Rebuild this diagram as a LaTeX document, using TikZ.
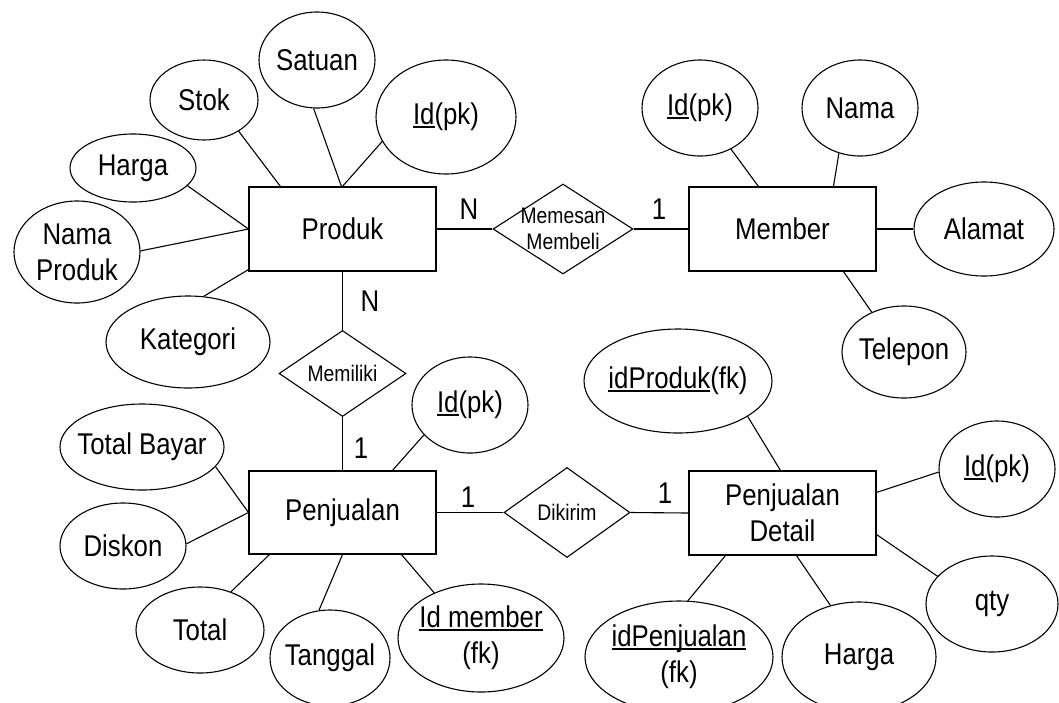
\documentclass[tikz,border=0pt]{standalone}
\usepackage{fontspec}
\setmainfont{Liberation Sans}[FakeStretch=0.86]
\usetikzlibrary{shapes.geometric}

% underlined key attribute
\newsavebox\keybox
\newcommand\keyul[1]{\sbox\keybox{#1}\rlap{\rule[-3.2pt]{\wd\keybox}{1.8pt}}\usebox\keybox}

\tikzset{
  bigfont/.style={font=\fontsize{30}{36}\selectfont},
  smallfont/.style={font=\fontsize{22.5}{26}\selectfont},
  entity/.style n args={2}{draw, rectangle, inner sep=0pt, align=center,
    minimum width=#1, minimum height=#2, bigfont},
  attr/.style n args={2}{draw, ellipse, inner xsep=-25pt, inner ysep=-10pt,
    align=center, minimum width=#1, minimum height=#2, bigfont},
  rel/.style n args={2}{draw, diamond, inner xsep=-25pt, inner ysep=-10pt,
    align=center, minimum width=#1, minimum height=#2, smallfont},
  card/.style={inner sep=0pt, bigfont},
}

\begin{document}
\begin{tikzpicture}[x=1pt, y=-1pt, line width=1.1pt]
\useasboundingbox (0,0) rectangle (1059,702);
\clip (0,0) rectangle (1059,702);

% entities
\node[entity={187pt}{84pt}] (produk)    at (342.5,229)   {Produk};
\node[entity={187pt}{84pt}] (member)    at (782.5,229)   {Member};
\node[entity={187pt}{83pt}] (penjualan) at (342.5,512.5) {Penjualan};
\node[entity={187pt}{84pt}] (detail)    at (782.5,513)   {Penjualan\\Detail};

% relationships
\node[rel={140pt}{90pt}] (memesan)  at (563,229)     {Memesan\\Membeli};
\node[rel={127pt}{86pt}] (memiliki) at (342.5,373.5) {Memiliki};
\node[rel={126pt}{90pt}] (dikirim)  at (567,512.5)   {Dikirim};

% attributes of Produk
\node[attr={116pt}{96pt}]  (satuan)   at (317,60)  {Satuan};
\node[attr={108pt}{80pt}]  (stok)     at (204,100) {Stok};
\node[attr={140pt}{114pt}] (idp)      at (446,117) {\keyul{Id}(pk)};
\node[attr={126pt}{68pt}]  (harga)    at (133,168) {Harga};
\node[attr={126pt}{102pt}] (namap)    at (77,252)  {Nama\\Produk};
\node[attr={164pt}{92pt}]  (kategori) at (188,342) {Kategori};

% attributes of Member
\node[attr={116pt}{96pt}]  (idm)      at (700,108) {\keyul{Id}(pk)};
\node[attr={116pt}{96pt}]  (nama)     at (860,108) {Nama};
\node[attr={140pt}{94pt}]  (alamat)   at (984,229) {Alamat};
\node[attr={124pt}{92pt}]  (telepon)  at (904,352) {Telepon};

% attributes of Penjualan
\node[attr={116pt}{96pt}]  (idj)        at (470,405) {\keyul{Id}(pk)};
\node[attr={164pt}{86pt}]  (totalbayar) at (142,447) {Total Bayar};
\node[attr={126pt}{86pt}]  (diskon)     at (123,546) {Diskon};
\node[attr={128pt}{86pt}]  (total)      at (200,630) {Total};
\node[attr={120pt}{96pt}]  (tanggal)    at (330,658) {Tanggal};
\node[attr={166pt}{108pt}] (idmember)   at (481,638) {\keyul{Id member}\\(fk)};

% attributes of Penjualan Detail
\node[attr={188pt}{104pt}] (idproduk) at (678,381) {\keyul{idProduk}(fk)};
\node[attr={116pt}{96pt}]  (idd)      at (997,469) {\keyul{Id}(pk)};
\node[attr={132pt}{96pt}]  (qty)      at (992,604) {qty};
\node[attr={154pt}{110pt}] (hargad)   at (859,657) {Harga};
\node[attr={188pt}{112pt}] (idpenj)   at (679,657) {\keyul{idPenjualan}\\(fk)};

% cardinalities
\node[card] (c1) at (469,209) {N};
\node[card] (c2) at (659,209) {1};
\node[card] (c3) at (370,301) {N};
\node[card] (c4) at (361,448) {1};
\node[card] (c5) at (468,497) {1};
\node[card] (c6) at (665,493) {1};

% relationship links
\draw (produk.east) -- (memesan.west);
\draw (memesan.east) -- (member.west);
\draw (produk.south) -- (memiliki.north);
\draw (memiliki.south) -- (penjualan.north);
\draw (penjualan.east) -- (dikirim.west);
\draw (dikirim.east) -- (detail.west);

% Produk attribute links
\draw (satuan.-94)  -- ([xshift=93pt]produk.north west);
\draw (stok.-42)    -- ([xshift=32pt]produk.north west);
\draw (idp.201)     -- ([xshift=94pt]produk.north west);
\draw (harga.-18)   -- (produk.west);
\draw (namap.1)     -- (produk.west);
\draw (kategori.71) -- ([yshift=2pt]produk.south west);

% Member attribute links
\draw (idm.-53)     -- ([xshift=70pt]member.north west);
\draw (nama.-115)   -- ([xshift=145pt]member.north west);
\draw (member.east) -- (alamat.west);
\draw (telepon.129) -- ([xshift=155pt]member.south west);

% Penjualan attribute links
\draw (idj.213)        -- ([xshift=144pt]penjualan.north west);
\draw (totalbayar.-15) -- (penjualan.west);
\draw (diskon.2)       -- (penjualan.west);
\draw (total.51)       -- ([xshift=21pt]penjualan.south west);
\draw (tanggal.103)    -- (penjualan.south);
\draw (idmember.136)   -- ([xshift=153pt]penjualan.south west);

% Penjualan Detail attribute links
\draw (idproduk.-27.5) -- ([xshift=92pt]detail.north west);
\draw (idd.183)        -- ([yshift=-22pt]detail.north east);
\draw (qty.153)        -- ([yshift=21pt]detail.south east);
\draw (hargad.119)     -- ([xshift=108pt]detail.south west);
\draw (idpenj.81)      -- ([xshift=37pt]detail.south west);
\end{tikzpicture}
\end{document}
